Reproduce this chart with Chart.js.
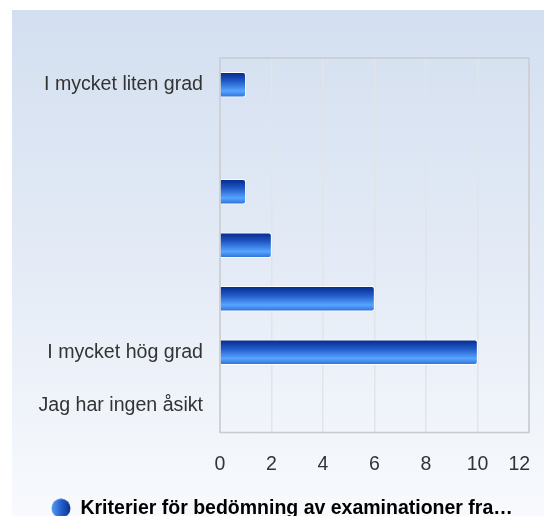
<!DOCTYPE html>
<html lang="sv">
<head>
<meta charset="UTF-8">
<title>Kriterier för bedömning</title>
<script src="https://cdn.jsdelivr.net/npm/chart.js"></script>
<style>
  html, body { margin: 0; padding: 0; background: #fff; }
  #bg { position: absolute; left: 12px; top: 10px; width: 532px; height: 506px;
        background: linear-gradient(to bottom, #d3dff0 0%, #e4ebf6 50%, #f8fafd 100%); }
  #wrap { position: absolute; left: 0; top: 0; width: 544px; height: 516px; }
</style>
</head>
<body>
<div id="bg"></div>
<div id="wrap"><canvas id="chart" width="544" height="516"></canvas></div>
<script>
// data
const categories = ['I mycket liten grad', '', '', '', '', 'I mycket hög grad', 'Jag har ingen åsikt'];
const values = [1, 0, 1, 2, 6, 10, 0];
const xTicks = [0, 2, 4, 6, 8, 10, 12];
const seriesLabel = 'Kriterier för bedömning av examinationer fra…';

const FONT = 'Arial, "Liberation Sans", sans-serif';
const BAR_H = 25;

// vertical gradient for each bar
function barFill(context) {
    const chart = context.chart;
    const yScale = chart.scales.y;
    if (!yScale || context.type !== 'data') return '#2a66d4';
    const mid = yScale.getPixelForValue(context.dataIndex);
    const g = chart.ctx.createLinearGradient(0, mid - BAR_H / 2, 0, mid + BAR_H / 2);
    g.addColorStop(0, '#06288a');
    g.addColorStop(0.35, '#1f58c6');
    g.addColorStop(0.75, '#58a4ff');
    g.addColorStop(1, '#2b6fd6');
    return g;
}

// legend dot
const dot = document.createElement('canvas');
dot.width = 20; dot.height = 20;
const dctx = dot.getContext('2d');
const lg = dctx.createLinearGradient(0, 0, 20, 0);
lg.addColorStop(0, '#5b9ff2');
lg.addColorStop(0.5, '#2660cc');
lg.addColorStop(1, '#0b2d8c');
dctx.fillStyle = lg;
dctx.beginPath();
dctx.arc(10, 10, 9.5, 0, Math.PI * 2);
dctx.fill();

// frame round the plot area
const frame = {
    id: 'frame',
    beforeDatasetsDraw(chart) {
        const a = chart.chartArea, ctx = chart.ctx;
        ctx.save();
        ctx.strokeStyle = '#c9cbce';
        ctx.lineWidth = 1.5;
        ctx.strokeRect(a.left, a.top, a.right - a.left, a.bottom - a.top);
        ctx.restore();
    }
};

new Chart(document.getElementById('chart').getContext('2d'), {
    type: 'bar',
    data: {
        labels: categories,
        datasets: [{
            label: seriesLabel,
            data: values,
            backgroundColor: barFill,
            borderColor: '#ffffff',
            borderWidth: 1,
            borderRadius: 3,
            borderSkipped: 'start',
            barThickness: BAR_H
        }]
    },
    options: {
        indexAxis: 'y',
        responsive: false,
        animation: false,
        layout: { padding: { top: 58, left: 35, right: 15, bottom: -12 } },
        scales: {
            x: {
                min: 0,
                max: 12,
                afterBuildTicks(scale) { scale.ticks = xTicks.map(v => ({ value: v })); },
                afterFit(scale) {
                    scale.height = 65;
                    scale.paddingLeft = 0;
                    scale.paddingRight = 0;
                },
                grid: { color: '#e1e4e8', lineWidth: 1.5, drawTicks: false },
                border: { display: false },
                ticks: {
                    padding: 20,
                    color: '#333',
                    font: { family: FONT, size: 19.5 },
                    // last label is kept inside the frame, as in the original
                    callback: (v, i, ticks) => i === ticks.length - 1 ? v + '\u2002\u2002' : v
                }
            },
            y: {
                afterFit(scale) { scale.width = 185; },
                grid: { display: false, drawTicks: false },
                border: { display: false },
                ticks: { padding: 17, color: '#333', font: { family: FONT, size: 19.6 } }
            }
        },
        plugins: {
            tooltip: { enabled: false },
            legend: {
                position: 'bottom',
                labels: {
                    usePointStyle: true,
                    padding: 1,
                    color: '#333',
                    font: { family: FONT, size: 19.5, weight: 'bold' },
                    generateLabels() {
                        return [{
                            text: seriesLabel,
                            pointStyle: dot,
                            fillStyle: 'transparent',
                            strokeStyle: 'transparent',
                            lineWidth: 0,
                            datasetIndex: 0,
                            hidden: false
                        }];
                    }
                }
            }
        }
    },
    plugins: [frame]
});
</script>
</body>
</html>
